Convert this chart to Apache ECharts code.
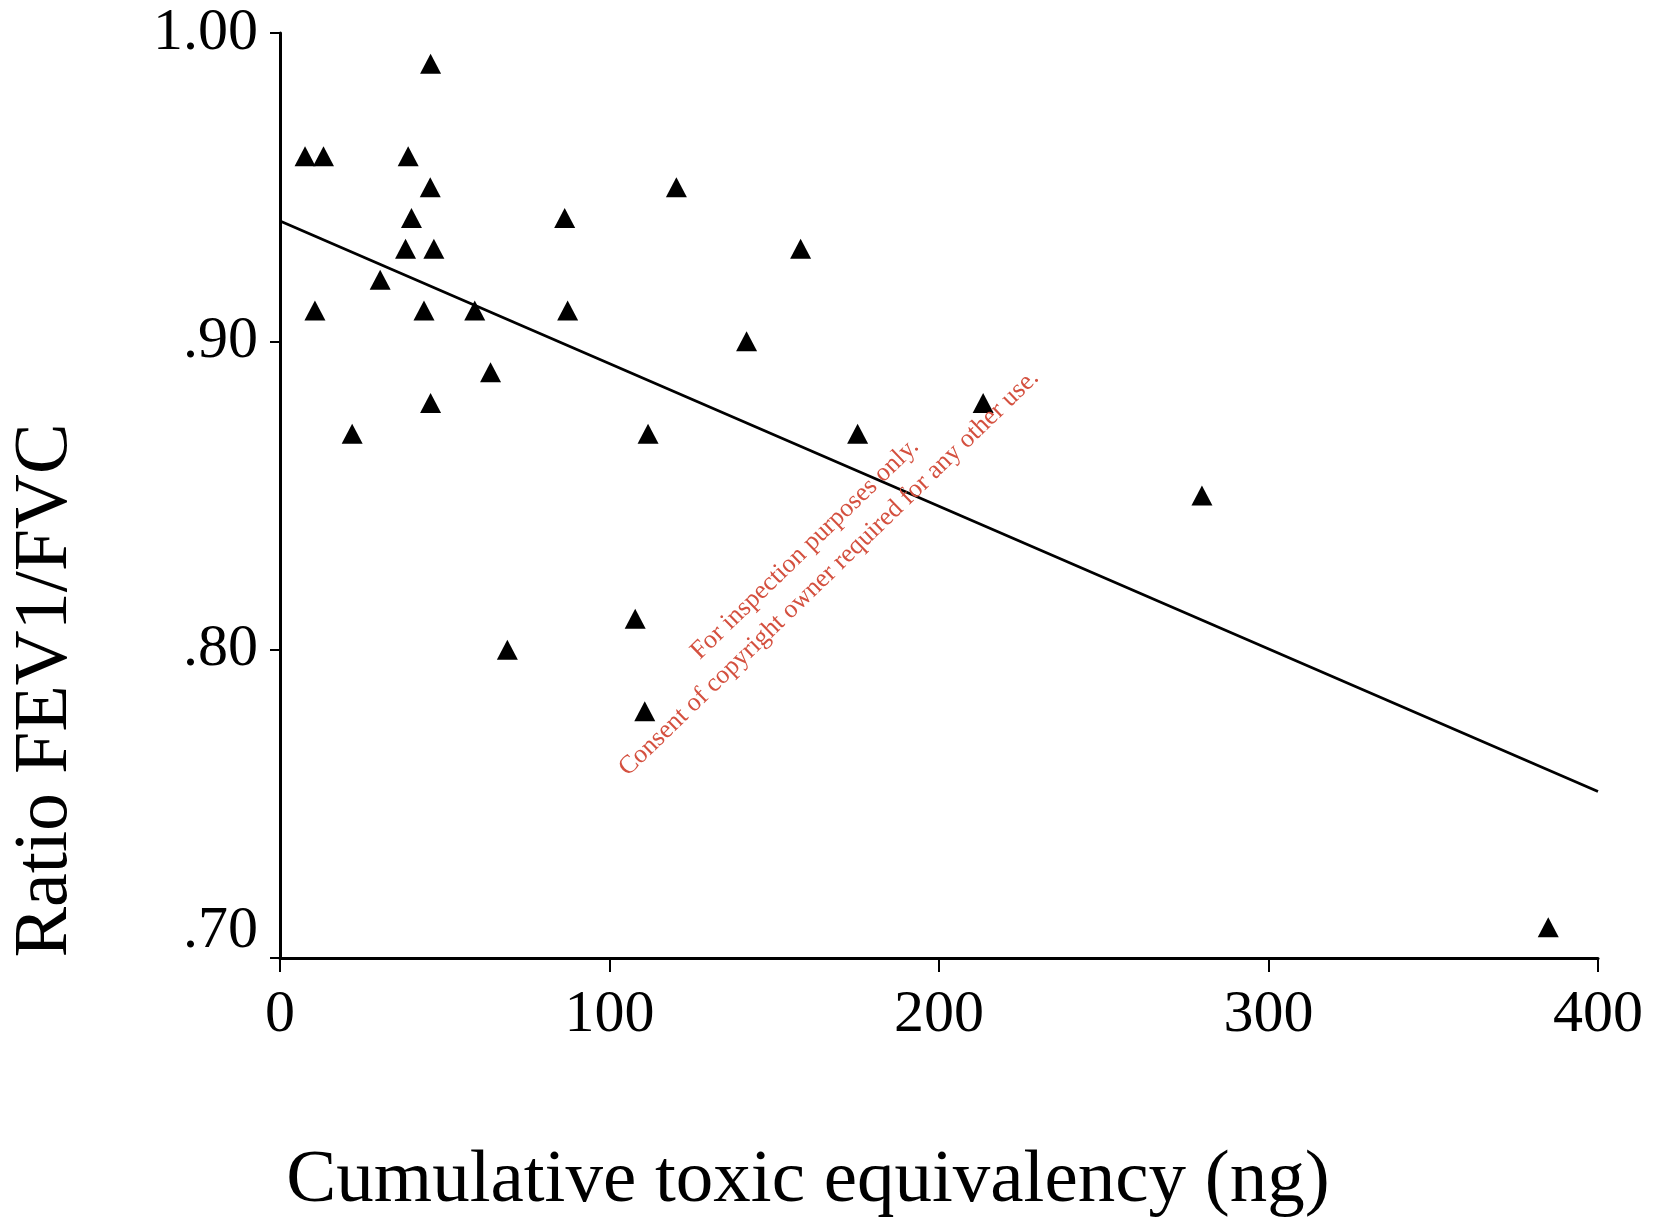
<!DOCTYPE html>
<html>
<head>
<meta charset="utf-8">
<script src="https://cdn.jsdelivr.net/npm/echarts@6/dist/echarts.min.js"></script>
<style>
html,body{margin:0;padding:0;background:#fff;}
#chart{width:1657px;height:1226px;}
</style>
</head>
<body>
<div id="chart"></div>
<script>
// Scatter points: cumulative toxic equivalency (ng) vs ratio FEV1/FVC
var teqValues = [7.6, 13.2, 38.9, 45.7, 45.6, 120.3, 39.9, 86.4, 38.1, 46.7, 30.4, 10.6, 43.7, 59.1,
                 87.3, 141.6, 63.9, 45.7, 21.9, 111.7, 107.8, 69.0, 110.7, 175.3, 213.4, 279.8, 384.9, 158.0];
var ratioValues = [0.96, 0.96, 0.96, 0.99, 0.95, 0.95, 0.94, 0.94, 0.93, 0.93, 0.92, 0.91, 0.91, 0.91,
                   0.91, 0.90, 0.89, 0.88, 0.87, 0.87, 0.81, 0.80, 0.78, 0.87, 0.88, 0.85, 0.71, 0.93];
// Fitted regression line end points
var fitX = [0, 400];
var fitY = [0.939, 0.754];
var xTicks = [0, 100, 200, 300, 400];
var yTickLabels = {'0.7': '.70', '0.8': '.80', '0.9': '.90', '1': '1.00'};
var watermarkLines = ['For inspection purposes only.', 'Consent of copyright owner required for any other use.'];

var points = teqValues.map(function (x, i) { return [x, ratioValues[i]]; });
var fit = fitX.map(function (x, i) { return [x, fitY[i]]; });

var serif = '"Liberation Serif", "Times New Roman", serif';
var chart = echarts.init(document.getElementById('chart'));
var wmAngle = 44 * Math.PI / 180;
chart.setOption({
  backgroundColor: '#ffffff',
  animation: false,
  grid: {left: 278, right: 59, top: 33, bottom: 268, containLabel: false},
  xAxis: {
    type: 'value', min: 0, max: 400, interval: 100,
    name: 'Cumulative toxic equivalency (ng)',
    nameLocation: 'middle', nameGap: 186,
    nameTextStyle: {fontFamily: serif, fontSize: 75, color: '#000', padding: [0, 262, 0, 0]},
    axisLine: {show: true, lineStyle: {color: '#000', width: 3}},
    axisTick: {show: true, length: 14, lineStyle: {color: '#000', width: 2}},
    axisLabel: {fontFamily: serif, fontSize: 60, color: '#000', margin: 27,
      formatter: function (v) { return xTicks.indexOf(v) >= 0 ? String(v) : ''; }},
    splitLine: {show: false}
  },
  yAxis: {
    type: 'value', min: 0.7, max: 1.0, interval: 0.1,
    name: 'Ratio FEV1/FVC',
    nameLocation: 'middle', nameGap: 196, nameRotate: 90,
    nameTextStyle: {fontFamily: serif, fontSize: 76, color: '#000', padding: [0, 390, 0, 0]},
    axisLine: {show: true, lineStyle: {color: '#000', width: 3}},
    axisTick: {show: true, length: 10, lineStyle: {color: '#000', width: 2}},
    axisLabel: {fontFamily: serif, fontSize: 60, color: '#000', margin: 22,
      formatter: function (v) {
        var k = String(Math.round(v * 10) / 10);
        var t = yTickLabels[k] || '';
        return k === '0.7' ? '{low|' + t + '}' : t;
      },
      rich: {low: {fontFamily: serif, fontSize: 60, color: '#000', padding: [0, 0, 54, 0]}}
    },
    splitLine: {show: false}
  },
  series: [
    {
      type: 'scatter', data: points, symbol: 'triangle', symbolSize: [21, 20],
      itemStyle: {color: '#000', opacity: 1}, z: 3
    },
    {
      type: 'line', data: fit, symbol: 'none', lineStyle: {color: '#000', width: 2.8}, z: 2
    }
  ],
  graphic: [
    {type: 'text', x: 805, y: 549, rotation: wmAngle, z: 10,
     style: {text: watermarkLines[0], font: '26px ' + serif, fill: '#d4503f', align: 'center', verticalAlign: 'middle'}},
    {type: 'text', x: 829, y: 573, rotation: wmAngle, z: 10,
     style: {text: watermarkLines[1], font: '26px ' + serif, fill: '#d4503f', align: 'center', verticalAlign: 'middle'}}
  ]
});
</script>
</body>
</html>
